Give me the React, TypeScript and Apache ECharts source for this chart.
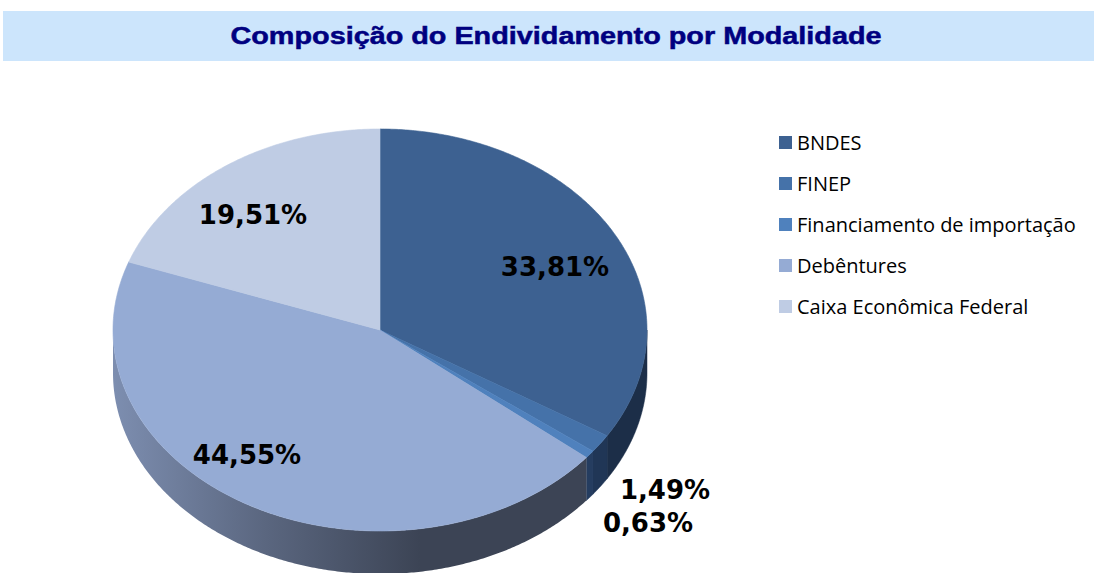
import React, { useEffect, useRef } from "react";
import * as echarts from "echarts";

// ---- data ----
const categories = [
  "BNDES",
  "FINEP",
  "Financiamento de importação",
  "Debêntures",
  "Caixa Econômica Federal",
];
const shares = [33.81, 1.49, 0.63, 44.55, 19.51];
const titleText = "Composição do Endividamento por Modalidade";

// ---- styles / layout ----
const topColors = ["#3d6191", "#4572a9", "#4f81bd", "#95abd4", "#bfcce4"];
const sideColors = ["#1c2e48", "#203656", "#253d60", "#3c4455", "#6a7896"];
const LAYOUT = { cx: 380, cy: 330, rx: 267, ry: 201, depth: 43 };
// label centre offsets from the pie centre (px)
const labelOffsets = [
  [175, -63],
  [285, 160],
  [268, 193],
  [-133, 125],
  [-127, -115],
];

const fmt = (v: number) => v.toFixed(2).replace(".", ",") + "%";

export default function App() {
  const ref = useRef<HTMLDivElement>(null);
  useEffect(() => {
    if (!ref.current) return;
    const chart = echarts.init(ref.current, undefined, { renderer: "svg" });
    const total = shares.reduce((a, b) => a + b, 0);
    const starts: number[] = [];
    let acc = 0;
    shares.forEach((v) => {
      starts.push(acc);
      acc += v;
    });
    const { cx, cy, rx, ry, depth } = LAYOUT;
    const pt = (deg: number, dy = 0) => {
      const t = (deg * Math.PI) / 180;
      return [cx + rx * Math.sin(t), cy - ry * Math.cos(t) + dy];
    };
    const arc = (a: number, b: number, dy = 0) => {
      const pts: number[][] = [];
      const n = Math.max(2, Math.ceil(Math.abs(b - a) / 0.5));
      for (let k = 0; k <= n; k++) pts.push(pt(a + ((b - a) * k) / n, dy));
      return pts;
    };

    const renderItem = (params: any, api: any) => {
      const i = params.dataIndex;
      const v = api.value(0);
      const a0 = (starts[i] / total) * 360;
      const a1 = a0 + (v / total) * 360;
      const children: any[] = [];
      const s = Math.max(a0, 90);
      const e = Math.min(a1, 270);
      if (s < e) {
        const pts = arc(s, e).concat(arc(e, s, depth));
        const fill =
          i === 3
            ? new echarts.graphic.LinearGradient(
                cx - rx,
                0,
                cx + 40,
                0,
                [
                  { offset: 0, color: "#7d8eb0" },
                  { offset: 0.5, color: "#5a667f" },
                  { offset: 1, color: sideColors[i] },
                ],
                true
              )
            : sideColors[i];
        children.push({
          type: "polygon",
          z2: 1,
          shape: { points: pts },
          style: { fill, stroke: i === 3 ? "none" : sideColors[i], lineWidth: 0.5 },
        });
      }
      const topPts = [[cx, cy]].concat(arc(a0, a1));
      children.push({
        type: "polygon",
        z2: 10,
        shape: { points: topPts },
        style: { fill: topColors[i], stroke: topColors[i], lineWidth: 0.6, lineJoin: "round" },
      });
      const off = labelOffsets[i];
      children.push({
        type: "text",
        z2: 20,
        x: cx + off[0],
        y: cy + off[1],
        style: {
          text: fmt(v),
          fontFamily: "DejaVu Sans, Verdana, sans-serif",
          fontWeight: "bold",
          fontSize: 26,
          fill: "#000000",
          align: "center",
          verticalAlign: "middle",
        },
      });
      return { type: "group", children };
    };

    chart.setOption({
      animation: false,
      backgroundColor: "#ffffff",
      color: topColors,
      graphic: [
        {
          type: "rect",
          z: 0,
          shape: { x: 3, y: 11, width: 1091, height: 50 },
          style: { fill: "#cce5fc" },
        },
        {
          type: "text",
          z: 1,
          x: 556,
          y: 36,
          scaleX: 1.2,
          style: {
            text: titleText,
            fontFamily: "Liberation Sans, Arial, sans-serif",
            fontWeight: "bold",
            fontSize: 24,
            fill: "#000080",
            stroke: "#000080",
            lineWidth: 0.5,
            align: "center",
            verticalAlign: "middle",
          },
        },
      ],
      legend: {
        orient: "vertical",
        left: 779,
        top: 132,
        padding: 0,
        itemWidth: 13,
        itemHeight: 13,
        itemGap: 20,
        icon: "rect",
        selectedMode: false,
        data: categories,
        textStyle: {
          fontFamily: "Open Sans, Noto Sans, sans-serif",
          fontSize: 20,
          lineHeight: 21,
          color: "#000000",
        },
      },
      series: [
        {
          type: "custom",
          coordinateSystem: "none",
          renderItem,
          silent: true,
          data: shares.map((v, i) => ({ name: categories[i], value: [v] })),
        },
        {
          type: "pie",
          radius: [0, 0],
          center: [-50, -50],
          silent: true,
          label: { show: false },
          labelLine: { show: false },
          data: shares.map((v, i) => ({ name: categories[i], value: v, itemStyle: { color: topColors[i] } })),
        },
      ],
    });
    return () => chart.dispose();
  }, []);
  return (
    <div
      ref={ref}
      style={{ position: "fixed", left: 0, top: 0, width: 1094, height: 573 }}
    />
  );
}
